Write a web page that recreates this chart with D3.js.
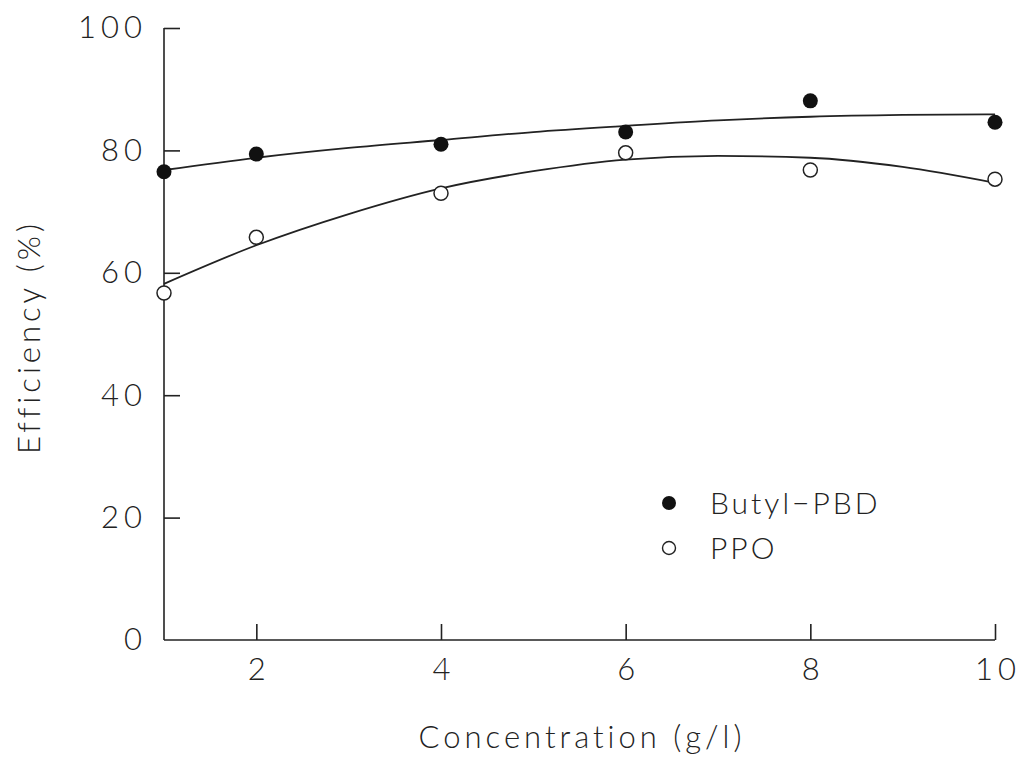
<!DOCTYPE html>
<html>
<head>
<meta charset="utf-8">
<script src="https://cdn.jsdelivr.net/npm/d3@7"></script>
<style>
  body { margin: 0; background: #fff; }
  text { font-family: Lato, "DejaVu Sans", sans-serif; font-weight: 300; fill: #222; }
</style>
</head>
<body>
<div id="chart"></div>
<script>
// measured points
var conc = [1, 2, 4, 6, 8, 10];
var butylPBD = [76.5, 79.4, 81.0, 83.0, 88.1, 84.6];
var ppo = [56.7, 65.8, 73.0, 79.6, 76.8, 75.3];

// fitted curves
var fitX = [1, 2, 3, 4, 5, 6, 7, 8, 9, 10];
var butylFit = [76.8, 78.8, 80.4, 81.7, 83.0, 84.0, 84.9, 85.5, 85.8, 85.9];
var ppoFit = [58.2, 64.5, 69.6, 73.8, 76.6, 78.5, 79.1, 78.8, 77.3, 74.7];

var xTicks = [2, 4, 6, 8, 10];
var yTicks = [0, 20, 40, 60, 80, 100];

var width = 1020, height = 757;
var margin = { top: 28, right: 25, bottom: 117, left: 164 };

var svg = d3.select("#chart").append("svg")
    .attr("width", width)
    .attr("height", height);

var x = d3.scaleLinear().domain([1, 10]).range([margin.left, width - margin.right]);
var y = d3.scaleLinear().domain([0, 100]).range([height - margin.bottom, margin.top]);

var ink = "#222";

// axes: plain lines, ticks point inward
var xAxis = d3.axisBottom(x).tickValues(xTicks).tickSize(-16).tickPadding(18).tickSizeOuter(0);
var yAxis = d3.axisLeft(y).tickValues(yTicks.slice(1)).tickSize(-16).tickPadding(17).tickSizeOuter(0);

var gx = svg.append("g")
    .attr("transform", "translate(0," + y(0) + ")")
    .call(xAxis);
var gy = svg.append("g")
    .attr("transform", "translate(" + margin.left + ",0)")
    .call(yAxis);

[gx, gy].forEach(function(g) {
    g.select(".domain").attr("stroke", ink).attr("stroke-width", 1.6);
    g.selectAll(".tick line").attr("stroke", ink).attr("stroke-width", 1.6);
    g.selectAll(".tick text")
        .style("font-family", "Lato, 'DejaVu Sans', sans-serif")
        .style("font-weight", 300)
        .style("font-size", "31px")
        .style("letter-spacing", "5px")
        .attr("fill", ink);
});
gx.select(".domain").attr("d", "M" + margin.left + ",0H" + (width - margin.right));
gy.select(".domain").attr("d", "M0," + y(0) + "V" + y(100));
gx.selectAll(".tick text").attr("dx", "2.5px");

// "0" label at the origin
gy.append("text")
    .attr("x", -17)
    .attr("y", y(0))
    .attr("dy", "0.32em")
    .attr("text-anchor", "end")
    .style("font-size", "31px")
    .style("letter-spacing", "5px")
    .text(yTicks[0]);

// fitted curves
var line = d3.line()
    .x(function(d) { return x(d[0]); })
    .y(function(d) { return y(d[1]); })
    .curve(d3.curveMonotoneX);

[butylFit, ppoFit].forEach(function(fit) {
    svg.append("path")
        .datum(fitX.map(function(v, i) { return [v, fit[i]]; }))
        .attr("fill", "none")
        .attr("stroke", ink)
        .attr("stroke-width", 1.8)
        .attr("d", line);
});

// points
svg.selectAll(".butyl")
    .data(conc)
    .enter().append("circle")
    .attr("class", "butyl")
    .attr("cx", function(d) { return x(d); })
    .attr("cy", function(d, i) { return y(butylPBD[i]); })
    .attr("r", 7.5)
    .attr("fill", "#111");

svg.selectAll(".ppo")
    .data(conc)
    .enter().append("circle")
    .attr("class", "ppo")
    .attr("cx", function(d) { return x(d); })
    .attr("cy", function(d, i) { return y(ppo[i]); })
    .attr("r", 7)
    .attr("fill", "#fff")
    .attr("stroke", ink)
    .attr("stroke-width", 1.5);

// legend
var legend = [
    { name: "Butyl\u2212PBD", filled: true },
    { name: "PPO", filled: false }
];
var lg = svg.append("g").attr("transform", "translate(669,503)");
legend.forEach(function(d, i) {
    lg.append("circle")
        .attr("cx", 0)
        .attr("cy", i * 45)
        .attr("r", d.filled ? 7 : 6.5)
        .attr("fill", d.filled ? "#111" : "#fff")
        .attr("stroke", d.filled ? "none" : ink)
        .attr("stroke-width", 1.4);
    lg.append("text")
        .attr("x", 41)
        .attr("y", i * 45)
        .attr("dy", "0.35em")
        .style("font-size", "30px")
        .style("letter-spacing", "3px")
        .text(d.name);
});

// axis titles
svg.append("text")
    .attr("x", 582)
    .attr("y", 748)
    .attr("text-anchor", "middle")
    .style("font-size", "31px")
    .style("letter-spacing", "4px")
    .text("Concentration (g/l)");

svg.append("text")
    .attr("transform", "translate(40,337) rotate(-90)")
    .attr("text-anchor", "middle")
    .style("font-size", "31px")
    .style("letter-spacing", "4px")
    .text("Efficiency (%)");
</script>
</body>
</html>
